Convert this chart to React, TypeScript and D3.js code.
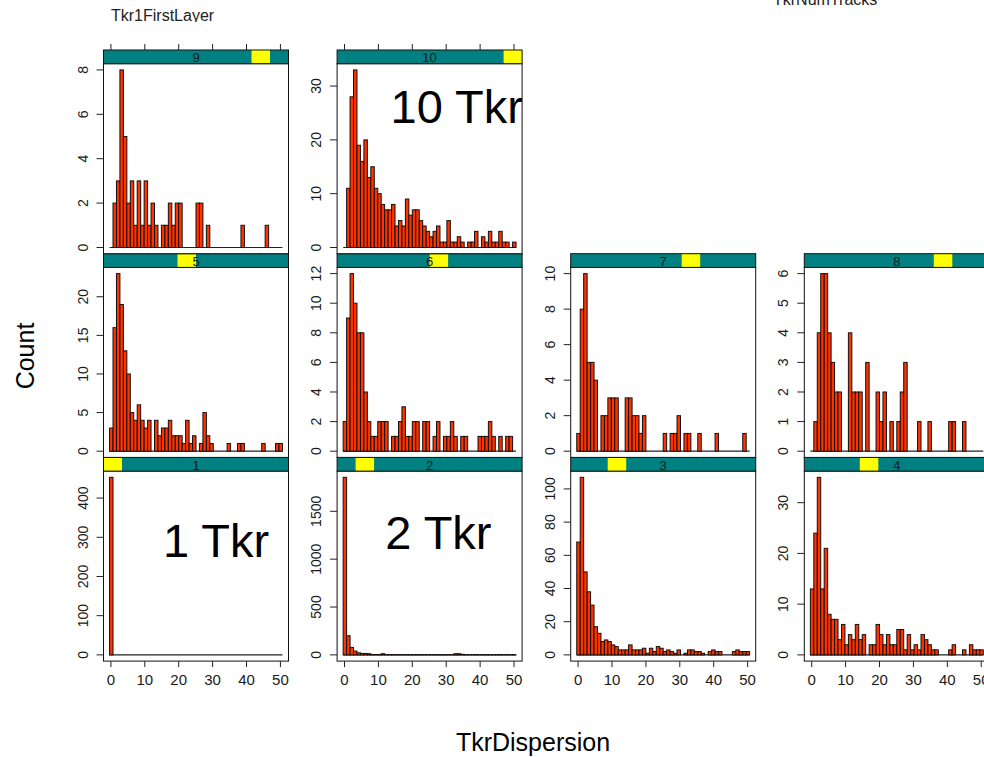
import React from "react";
import * as d3 from "d3";

const W = 984;
const H = 757;

// Histogram bins (shared by all panels)
const binLow = -0.4;
const binWidth = 1.02;

// Panel levels (TkrNumTracks)
const levels = [1, 2, 3, 4, 5, 6, 7, 8, 9, 10];

// Counts per bin, one array per panel
const counts1 = [453, 0, 0, 0, 0, 0, 0, 0, 0, 0, 0, 0, 0, 0, 0, 0, 0, 0, 0, 0, 0, 0, 0, 0, 0, 0, 0, 0, 0, 0, 0, 0, 0, 0, 0, 0, 0, 0, 0, 0, 0, 0, 0, 0, 0, 0, 0, 0, 0, 0];
const counts2 = [1855, 200, 78, 40, 22, 15, 15, 12, 4, 3, 3, 12, 3, 2, 2, 2, 2, 1, 1, 2, 1, 1, 2, 1, 1, 1, 2, 1, 1, 1, 2, 1, 12, 12, 6, 2, 1, 1, 2, 1, 1, 1, 1, 1, 1, 1, 1, 1, 1, 1];
const counts3 = [68, 107, 50, 38, 30, 17, 13, 8, 9, 8, 6, 5, 3, 3, 3, 6, 3, 3, 3, 4, 1, 4, 2, 5, 4, 2, 3, 2, 1, 3, 0, 1, 3, 3, 2, 2, 1, 0, 2, 3, 2, 2, 0, 0, 0, 2, 3, 2, 2, 2];
const counts4 = [13, 24, 35, 13, 21, 8, 7, 7, 3, 6, 2, 4, 3, 6, 3, 4, 0, 2, 2, 6, 4, 2, 4, 2, 2, 5, 5, 1, 4, 1, 2, 1, 4, 3, 2, 1, 1, 0, 0, 0, 1, 2, 0, 0, 1, 0, 2, 1, 1, 1];
const counts5 = [3, 16, 23, 19, 13, 10, 5, 4, 6, 4, 3, 4, 0, 4, 2, 3, 3, 4, 2, 2, 2, 1, 4, 1, 2, 0, 1, 5, 2, 1, 0, 0, 0, 0, 1, 0, 0, 1, 1, 0, 0, 0, 0, 0, 1, 0, 0, 0, 1, 1];
const counts6 = [2, 9, 12, 10, 8, 8, 4, 2, 1, 1, 2, 2, 2, 0, 1, 1, 2, 3, 1, 1, 2, 2, 0, 2, 2, 0, 1, 2, 0, 1, 1, 2, 1, 0, 1, 1, 0, 0, 0, 1, 1, 1, 2, 1, 0, 1, 0, 1, 1, 0];
const counts7 = [1, 8, 10, 5, 5, 4, 0, 2, 2, 3, 3, 3, 0, 0, 3, 3, 2, 2, 1, 2, 0, 0, 0, 0, 0, 1, 0, 1, 1, 2, 0, 1, 1, 0, 0, 1, 0, 0, 0, 0, 1, 0, 0, 0, 0, 0, 0, 0, 1, 0];
const counts8 = [0, 1, 4, 6, 6, 4, 3, 2, 2, 0, 0, 4, 2, 2, 2, 0, 3, 0, 0, 2, 1, 2, 0, 1, 0, 1, 2, 3, 0, 0, 0, 1, 0, 0, 1, 0, 0, 0, 0, 0, 1, 1, 0, 0, 1, 0, 0, 0, 0, 0];
const counts9 = [0, 2, 3, 8, 5, 2, 3, 1, 3, 1, 3, 1, 2, 1, 0, 1, 1, 2, 1, 2, 2, 0, 0, 0, 0, 2, 2, 0, 1, 0, 0, 0, 0, 0, 0, 0, 0, 0, 1, 0, 0, 0, 0, 0, 0, 1, 0, 0, 0, 0];
const counts10 = [0, 11, 28, 33, 19, 16, 20, 13, 15, 11, 10, 8, 7, 7, 8, 4, 5, 4, 9, 6, 7, 7, 5, 4, 3, 2, 3, 4, 1, 1, 5, 1, 1, 2, 1, 0, 1, 1, 3, 0, 2, 1, 3, 1, 1, 3, 1, 1, 0, 1];

const countsByLevel: Record<number, number[]> = {
  1: counts1, 2: counts2, 3: counts3, 4: counts4, 5: counts5,
  6: counts6, 7: counts7, 8: counts8, 9: counts9, 10: counts10,
};

// Tick labels
const xTicks = [0, 10, 20, 30, 40, 50];
const yTicksByLevel: Record<number, number[]> = {
  1: [0, 100, 200, 300, 400],
  2: [0, 500, 1000, 1500],
  3: [0, 20, 40, 60, 80, 100],
  4: [0, 10, 20, 30],
  5: [0, 5, 10, 15, 20],
  6: [0, 2, 4, 6, 8, 10, 12],
  7: [0, 2, 4, 6, 8, 10],
  8: [0, 1, 2, 3, 4, 5, 6],
  9: [0, 2, 4, 6, 8],
  10: [0, 10, 20, 30],
};

// In-panel annotations (data coordinates)
const annotations = [
  { level: 1, x: 31.0, y: 250, label: "1 Tkr" },
  { level: 2, x: 27.7, y: 1109, label: "2 Tkr" },
  { level: 10, x: 33.1, y: 23.2, label: "10 Tkr" },
];

const FONT = "'Liberation Sans', Arial, Helvetica, sans-serif";
const LEFT0 = 103.5;
const COL_STEP = 233.6;
const PW = 185;
const TOP0 = 50;
const ROW_STEP = 203.7;
const STRIP_H = 13.7;
const PAD = 0.035;

const BAR_FILL = "#ff3300";
const STRIP_BG = "#008080";
const STRIP_FG = "#ffff00";
const TEXT = "#1a1a1a";

function Panel({ level }: { level: number }) {
  const i = level - 1;
  const col = i % 4;
  const row = 2 - Math.floor(i / 4);
  const x0 = LEFT0 + col * COL_STEP;
  const stripTop = TOP0 + row * ROW_STEP;
  const plotTop = stripTop + STRIP_H;
  const plotBottom = stripTop + ROW_STEP;
  const counts = countsByLevel[level];
  const span = counts.length * binWidth;
  const xs = d3
    .scaleLinear()
    .domain([binLow - PAD * span, binLow + span + PAD * span])
    .range([x0, x0 + PW]);
  const maxC = d3.max(counts) as number;
  const ys = d3
    .scaleLinear()
    .domain([-PAD * maxC, maxC * (1 + PAD)])
    .range([plotBottom, plotTop]);
  const clipId = `clip-${level}`;
  const nLevels = levels.length;
  const yl0 = x0 + (PW * (level - 1)) / nLevels;
  const yl1 = x0 + (PW * level) / nLevels;

  return (
    <g>
      <defs>
        <clipPath id={clipId}>
          <rect x={x0} y={plotTop} width={PW} height={plotBottom - plotTop} />
        </clipPath>
      </defs>
      <rect x={x0} y={plotTop} width={PW} height={plotBottom - plotTop} fill="#fff" />
      <g clipPath={`url(#${clipId})`}>
        <line
          x1={xs(binLow)}
          x2={xs(binLow + span)}
          y1={ys(0)}
          y2={ys(0)}
          stroke="#222"
          strokeWidth={1.2}
        />
        {counts.map((c, k) =>
          c > 0 ? (
            <rect
              key={k}
              x={xs(binLow + k * binWidth)}
              width={xs(binLow + (k + 1) * binWidth) - xs(binLow + k * binWidth)}
              y={ys(c)}
              height={ys(0) - ys(c)}
              fill={BAR_FILL}
              stroke="#111"
              strokeWidth={1}
            />
          ) : null
        )}
        {annotations
          .filter((a) => a.level === level)
          .map((a) => (
            <text
              key={a.label}
              x={xs(a.x)}
              y={ys(a.y)}
              textAnchor="middle"
              fontSize={47}
              fontFamily={FONT}
              fill="#000"
            >
              {a.label}
            </text>
          ))}
      </g>
      <rect
        x={x0}
        y={plotTop}
        width={PW}
        height={plotBottom - plotTop}
        fill="none"
        stroke="#111"
        strokeWidth={1}
      />
      {/* strip */}
      <rect x={x0} y={stripTop} width={PW} height={STRIP_H} fill={STRIP_BG} />
      <rect x={yl0} y={stripTop} width={yl1 - yl0} height={STRIP_H} fill={STRIP_FG} />
      <rect x={x0} y={stripTop} width={PW} height={STRIP_H} fill="none" stroke="#111" strokeWidth={1} />
      <text
        x={x0 + PW / 2}
        y={stripTop + STRIP_H - 1.5}
        textAnchor="middle"
        fontSize={13}
        fontFamily={FONT}
        fill={TEXT}
      >
        {level}
      </text>
      {/* y axis */}
      {yTicksByLevel[level].map((t) => (
        <g key={t}>
          <line x1={x0 - 7} x2={x0} y1={ys(t)} y2={ys(t)} stroke="#222" strokeWidth={1} />
          <text
            transform={`translate(${x0 - 16},${ys(t)}) rotate(-90)`}
            textAnchor="middle"
            fontSize={14}
            fontFamily={FONT}
            fill={TEXT}
          >
            {t}
          </text>
        </g>
      ))}
      {/* top axis ticks for top row */}
      {row === 0 &&
        xTicks.map((t) => (
          <line key={t} x1={xs(t)} x2={xs(t)} y1={stripTop - 6} y2={stripTop} stroke="#222" strokeWidth={1} />
        ))}
      {/* bottom axis for bottom row */}
      {row === 2 &&
        xTicks.map((t) => (
          <g key={t}>
            <line x1={xs(t)} x2={xs(t)} y1={plotBottom} y2={plotBottom + 6} stroke="#222" strokeWidth={1} />
            <text
              x={xs(t)}
              y={plotBottom + 24}
              textAnchor="middle"
              fontSize={15}
              fontFamily={FONT}
              fill={TEXT}
            >
              {t}
            </text>
          </g>
        ))}
    </g>
  );
}

export default function App() {
  return (
    <div style={{ position: "absolute", left: 0, top: 0, width: W, height: H, overflow: "hidden", background: "#fff" }}>
      <svg width={W} height={H} viewBox={`0 0 ${W} ${H}`} style={{ display: "block" }}>
        <rect x={0} y={0} width={W} height={H} fill="#fff" />
        <defs>
          <clipPath id="clip-title">
            <rect x={0} y={0} width={400} height={22} />
          </clipPath>
        </defs>
        <text x={111} y={21} fontSize={16} fontFamily={FONT} fill="#222" clipPath="url(#clip-title)">
          Tkr1FirstLayer
        </text>
        <text x={773} y={5} fontSize={16} fontFamily={FONT} fill="#222">
          TkrNumTracks
        </text>
        {levels.map((l) => (
          <Panel key={l} level={l} />
        ))}
        <text
          transform={`translate(34,356) rotate(-90)`}
          textAnchor="middle"
          fontSize={25}
          fontFamily={FONT}
          fill="#000"
        >
          Count
        </text>
        <text x={533} y={751} textAnchor="middle" fontSize={25} fontFamily={FONT} fill="#000">
          TkrDispersion
        </text>
      </svg>
    </div>
  );
}
